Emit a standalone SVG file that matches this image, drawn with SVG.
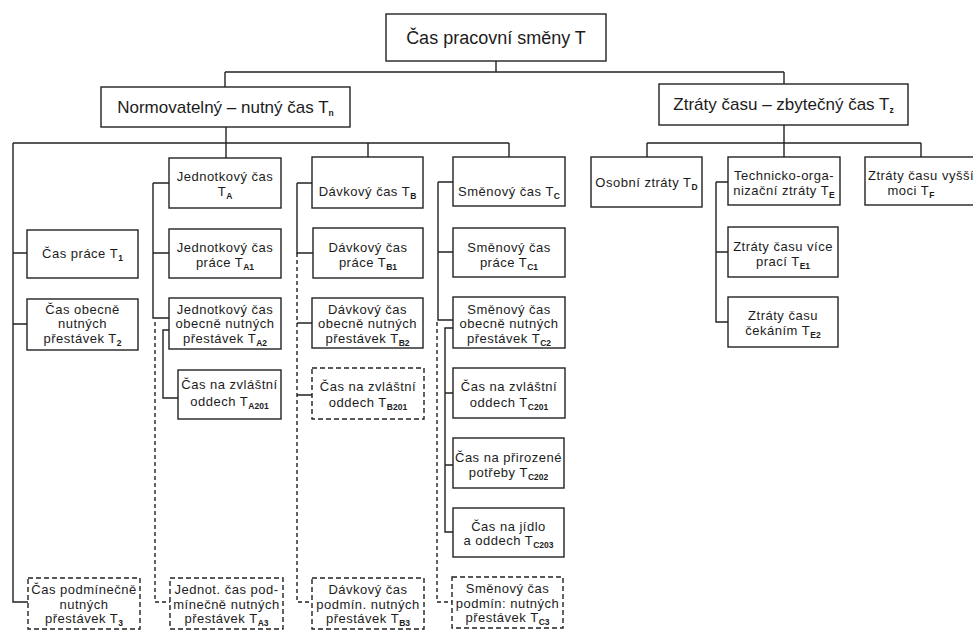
<svg xmlns="http://www.w3.org/2000/svg" width="973" height="633" viewBox="0 0 973 633">
<style>
.b{fill:#fff;stroke:#222;stroke-width:1.4}
.bd{fill:#fff;stroke:#222;stroke-width:1.4;stroke-dasharray:5 3}
.c{fill:none;stroke:#222;stroke-width:1.4}
.cd{fill:none;stroke:#222;stroke-width:1.4;stroke-dasharray:4 3}
text{font-family:"Liberation Sans",Arial,sans-serif;font-size:13px;letter-spacing:0.5px;fill:#1c1c1c;text-anchor:middle}
.s{font-size:8.5px;font-weight:bold;letter-spacing:0}
.big{font-size:18px;letter-spacing:0}
.mid{font-size:17px;letter-spacing:0}
</style>
<rect width="973" height="633" fill="#fff"/>
<g id="connectors">
<path class="c" d="M496 61V72M225 72H784M225 72V87M784 72V84"/>
<path class="c" d="M226 127V158M13 143H509M13 143V602H28M13 253H27M13 324H27"/>
<path class="c" d="M153 183H169M153 183V318H169M153 253H169M170 330H163V398H178"/>
<path class="c" d="M368 143V157M297 183H312M297 183V253H313M297 323H312M297 395H312"/>
<path class="c" d="M509 143V157M438 182H453M438 182V320H453M438 252H453M453 328H445V532H453M445 393H453M445 465H453"/>
<path class="c" d="M784 125V157M647 143H921M647 143V157M921 143V157M716 182H728M716 182V322H728M716 252H728"/>
<path class="cd" d="M155 322V602H170M297 253V602H312M437 322V602H452"/>
</g>
<g id="T"><rect class="b" x="386" y="14" width="220" height="47"/><text class="big" x="496" y="44">Čas pracovní směny T</text></g>
<g id="Tn"><rect class="b" x="101" y="87" width="249" height="40"/><text class="mid" x="225.5" y="113">Normovatelný – nutný čas T<tspan class="s" dy="3">n</tspan></text></g>
<g id="Tz"><rect class="b" x="659" y="84" width="249" height="41"/><text class="mid" x="783.5" y="110">Ztráty času – zbytečný čas T<tspan class="s" dy="3">z</tspan></text></g>

<g id="T1"><rect class="b" x="27" y="230" width="111" height="48"/><text x="82.5" y="258">Čas práce T<tspan class="s" dy="3">1</tspan></text></g>
<g id="T2"><rect class="b" x="27" y="299" width="111" height="51"/><text x="82.5" y="313.5">Čas obecně</text><text x="82.5" y="328">nutných</text><text x="82.5" y="342.5">přestávek T<tspan class="s" dy="3">2</tspan></text></g>
<g id="T3"><rect class="bd" x="28" y="578" width="112" height="51"/><text x="84" y="594">Čas podmínečně</text><text x="84" y="608.5">nutných</text><text x="84" y="623">přestávek T<tspan class="s" dy="3">3</tspan></text></g>

<g id="TA"><rect class="b" x="169" y="158" width="112" height="50"/><text x="225" y="181">Jednotkový čas</text><text x="225" y="196">T<tspan class="s" dy="3">A</tspan></text></g>
<g id="TA1"><rect class="b" x="169" y="229" width="112" height="49"/><text x="225" y="252">Jednotkový čas</text><text x="225" y="267">práce T<tspan class="s" dy="3">A1</tspan></text></g>
<g id="TA2"><rect class="b" x="169" y="298" width="112" height="51"/><text x="225" y="313.5">Jednotkový čas</text><text x="225" y="328">obecně nutných</text><text x="225" y="342.5">přestávek T<tspan class="s" dy="3">A2</tspan></text></g>
<g id="TA201"><rect class="b" x="178" y="370" width="103" height="49"/><text x="229.5" y="389">Čas na zvláštní</text><text x="229.5" y="406">oddech T<tspan class="s" dy="3">A201</tspan></text></g>
<g id="TA3"><rect class="bd" x="170" y="578" width="113" height="51"/><text x="226.5" y="594">Jednot. čas pod-</text><text x="226.5" y="608.5">mínečně nutných</text><text x="226.5" y="623">přestávek T<tspan class="s" dy="3">A3</tspan></text></g>

<g id="TB"><rect class="b" x="312" y="157" width="111" height="51"/><text x="367.5" y="196">Dávkový čas T<tspan class="s" dy="3">B</tspan></text></g>
<g id="TB1"><rect class="b" x="313" y="228" width="110" height="50"/><text x="368" y="252">Dávkový čas</text><text x="368" y="267">práce T<tspan class="s" dy="3">B1</tspan></text></g>
<g id="TB2"><rect class="b" x="312" y="298" width="111" height="50"/><text x="367.5" y="313.5">Dávkový čas</text><text x="367.5" y="328">obecně nutných</text><text x="367.5" y="342.5">přestávek T<tspan class="s" dy="3">B2</tspan></text></g>
<g id="TB201"><rect class="bd" x="312" y="368" width="112" height="51"/><text x="368" y="391">Čas na zvláštní</text><text x="368" y="407">oddech T<tspan class="s" dy="3">B201</tspan></text></g>
<g id="TB3"><rect class="bd" x="312" y="578" width="112" height="51"/><text x="368" y="594">Dávkový čas</text><text x="368" y="608.5">podmín. nutných</text><text x="368" y="623">přestávek T<tspan class="s" dy="3">B3</tspan></text></g>

<g id="TC"><rect class="b" x="453" y="157" width="112" height="49"/><text x="509" y="196">Směnový čas T<tspan class="s" dy="3">C</tspan></text></g>
<g id="TC1"><rect class="b" x="453" y="228" width="112" height="49"/><text x="509" y="252">Směnový čas</text><text x="509" y="267">práce T<tspan class="s" dy="3">C1</tspan></text></g>
<g id="TC2"><rect class="b" x="453" y="297" width="112" height="51"/><text x="509" y="313.5">Směnový čas</text><text x="509" y="328">obecně nutných</text><text x="509" y="342.5">přestávek T<tspan class="s" dy="3">C2</tspan></text></g>
<g id="TC201"><rect class="b" x="453" y="368" width="112" height="50"/><text x="509" y="391">Čas na zvláštní</text><text x="509" y="407">oddech T<tspan class="s" dy="3">C201</tspan></text></g>
<g id="TC202"><rect class="b" x="453" y="438" width="111" height="50"/><text x="508.5" y="462">Čas na přirozené</text><text x="508.5" y="477">potřeby T<tspan class="s" dy="3">C202</tspan></text></g>
<g id="TC203"><rect class="b" x="453" y="508" width="111" height="49"/><text x="508.5" y="530.5">Čas na jídlo</text><text x="508.5" y="545">a oddech T<tspan class="s" dy="3">C203</tspan></text></g>
<g id="TC3"><rect class="bd" x="452" y="577" width="111" height="51"/><text x="507.5" y="593">Směnový čas</text><text x="507.5" y="607.5">podmín: nutných</text><text x="507.5" y="622">přestávek T<tspan class="s" dy="3">C3</tspan></text></g>

<g id="TD"><rect class="b" x="591" y="157" width="111" height="50"/><text x="646.5" y="187">Osobní ztráty T<tspan class="s" dy="3">D</tspan></text></g>
<g id="TE"><rect class="b" x="728" y="157" width="112" height="48"/><text x="784" y="180">Technicko-orga-</text><text x="784" y="195">nizační ztráty T<tspan class="s" dy="3">E</tspan></text></g>
<g id="TE1"><rect class="b" x="728" y="227" width="110" height="50"/><text x="783" y="251">Ztráty času více</text><text x="783" y="266">prací T<tspan class="s" dy="3">E1</tspan></text></g>
<g id="TE2"><rect class="b" x="728" y="297" width="110" height="50"/><text x="783" y="320">Ztráty času</text><text x="783" y="335">čekáním T<tspan class="s" dy="3">E2</tspan></text></g>
<g id="TF"><rect class="b" x="865" y="157" width="125" height="48"/><text x="921" y="180">Ztráty času vyšší</text><text x="911" y="195">moci T<tspan class="s" dy="3">F</tspan></text></g>
</svg>
